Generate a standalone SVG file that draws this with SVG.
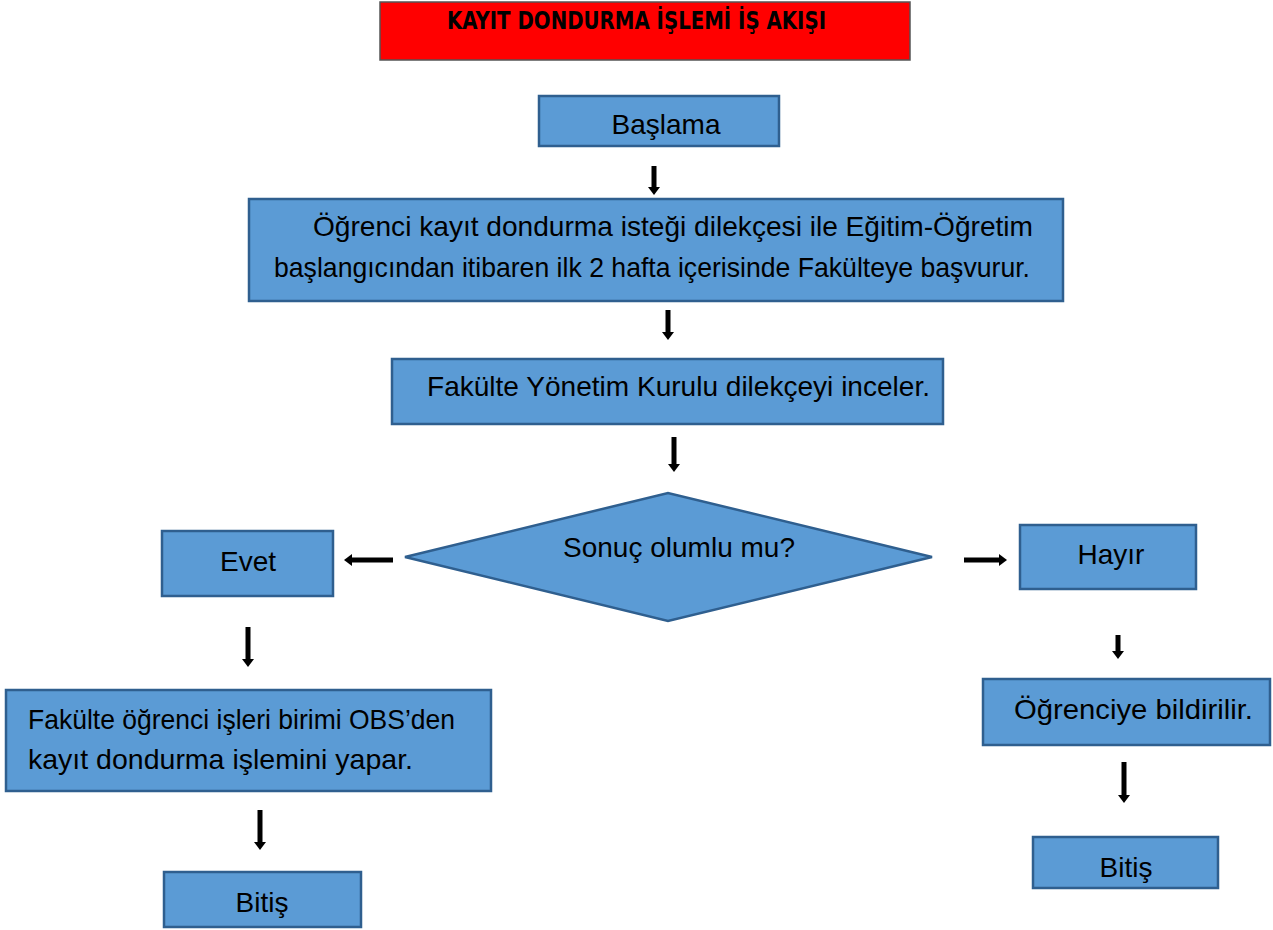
<svg xmlns="http://www.w3.org/2000/svg" width="1273" height="930" viewBox="0 0 1273 930">
<style>
.box{fill:#5B9BD5;stroke:#2F5F8F;stroke-width:2.5}
.t{font-family:"Liberation Sans",Arial,sans-serif;font-size:28px;fill:#000}
.c{text-anchor:middle}
.title{font-family:"DejaVu Sans Condensed","DejaVu Sans","Liberation Sans",sans-serif;font-weight:bold;font-size:25px;fill:#000}
.arr{stroke:#000;stroke-width:5;fill:none;marker-end:url(#ah)}
</style>
<defs>
<marker id="ah" markerUnits="userSpaceOnUse" markerWidth="8" markerHeight="12" viewBox="0 0 8 12" refX="0" refY="6" orient="auto">
<path d="M0,0 L8,6 L0,12 z" fill="#000"/>
</marker>
</defs>
<rect width="1273" height="930" fill="#fff"/>
<g id="title">
<rect x="380" y="2" width="530" height="58" fill="#FF0000" stroke="#555" stroke-width="1.5"/>
<text class="title" x="447" y="29" textLength="379" lengthAdjust="spacingAndGlyphs">KAYIT DONDURMA İŞLEMİ İŞ AKIŞI</text>
</g>
<g id="start">
<rect class="box" x="539" y="96" width="240" height="50"/>
<text class="t c" x="666" y="134">Başlama</text>
</g>
<g id="apply">
<rect class="box" x="249" y="199" width="814" height="102"/>
<text class="t" x="313" y="236" textLength="720" lengthAdjust="spacingAndGlyphs">Öğrenci kayıt dondurma isteği dilekçesi ile Eğitim-Öğretim</text>
<text class="t" x="274" y="277" textLength="756" lengthAdjust="spacingAndGlyphs">başlangıcından itibaren ilk 2 hafta içerisinde Fakülteye başvurur.</text>
</g>
<g id="review">
<rect class="box" x="392" y="359" width="551" height="65"/>
<text class="t" x="427" y="396" textLength="503" lengthAdjust="spacingAndGlyphs">Fakülte Yönetim Kurulu dilekçeyi inceler.</text>
</g>
<g id="decision">
<polygon class="box" points="405,557 668,493 932,557 668,621"/>
<text class="t c" x="679" y="557">Sonuç olumlu mu?</text>
</g>
<g id="yes">
<rect class="box" x="162" y="531" width="171" height="65"/>
<text class="t c" x="248" y="571">Evet</text>
</g>
<g id="no">
<rect class="box" x="1020" y="525" width="176" height="64"/>
<text class="t c" x="1111" y="564">Hayır</text>
</g>
<g id="process">
<rect class="box" x="6" y="690" width="485" height="101"/>
<text class="t" x="28" y="729" textLength="427" lengthAdjust="spacingAndGlyphs">Fakülte öğrenci işleri birimi OBS’den</text>
<text class="t" x="28" y="769" textLength="385" lengthAdjust="spacingAndGlyphs">kayıt dondurma işlemini yapar.</text>
</g>
<g id="end1">
<rect class="box" x="164" y="872" width="197" height="55"/>
<text class="t c" x="262" y="912">Bitiş</text>
</g>
<g id="notify">
<rect class="box" x="983" y="679" width="287" height="66"/>
<text class="t" x="1014" y="719" textLength="239" lengthAdjust="spacingAndGlyphs">Öğrenciye bildirilir.</text>
</g>
<g id="end2">
<rect class="box" x="1033" y="837" width="185" height="51"/>
<text class="t c" x="1126" y="877">Bitiş</text>
</g>
<g id="connectors">
<line class="arr" x1="654" y1="166" x2="654" y2="187"/>
<line class="arr" x1="668" y1="310" x2="668" y2="332"/>
<line class="arr" x1="674" y1="437" x2="674" y2="464"/>
<line class="arr" x1="393" y1="560" x2="352" y2="560"/>
<line class="arr" x1="964" y1="560" x2="999" y2="560"/>
<line class="arr" x1="248" y1="627" x2="248" y2="659"/>
<line class="arr" x1="260" y1="810" x2="260" y2="842"/>
<line class="arr" x1="1118" y1="635" x2="1118" y2="651"/>
<line class="arr" x1="1124" y1="762" x2="1124" y2="795"/>
</g>
</svg>
